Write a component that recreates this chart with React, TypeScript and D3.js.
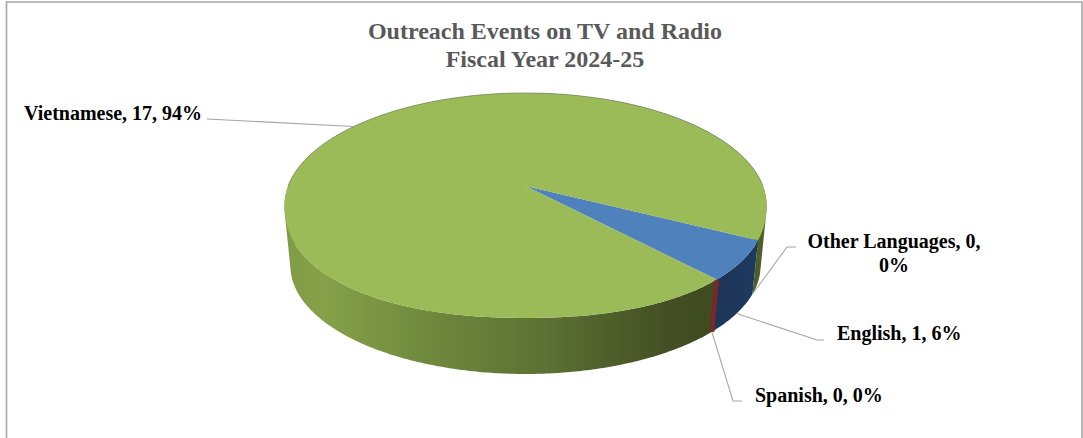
import React from "react";
import * as d3 from "d3";

// Outreach events by language, in drawing order clockwise around the pie
const languages = ["Other Languages", "English", "Spanish", "Vietnamese"];
const eventCounts = [0, 1, 0, 17];
const sharePercents = [0, 6, 0, 94];
const topColors = ["#8064a2", "#4f81bd", "#c0504d", "#9bbb59"];
const wallColors = ["none", "url(#englishWall)", "#742a28", "url(#vietnameseWall)"];
const titleLines = ["Outreach Events on TV and Radio", "Fiscal Year 2024-25"];

const WIDTH = 1083;
const HEIGHT = 438;
const START_ANGLE = (117 * Math.PI) / 180;

// Tilted discs: a unit circle seen through a perspective divide.
// `n` squares off the front half of the rim as a superellipse.
type Disc = { cx: number; cy: number; rx: number; ry: number; k: number; n: number };
const topDisc: Disc = { cx: 525.5, cy: 186, rx: 237.4, ry: 109.1, k: 0.173, n: 2.2 };
const baseDisc: Disc = { cx: 525.5, cy: 242.2, rx: 229.3, ry: 102.8, k: 0.22, n: 2 };

type Pt = [number, number];

const project = (d: Disc, angle: number): Pt => {
  const u = Math.sin(angle);
  const v = -Math.cos(angle);
  const w = 1 - d.k * v;
  const x = d.cx + (d.rx * u) / w;
  const y = d.cy + (d.ry * v) / w;
  const q = 1 - d.k * d.k;
  const a = d.rx / Math.sqrt(q);
  const b = d.ry / q;
  const yc = d.cy + (d.ry * d.k) / q;
  const ex = (x - d.cx) / a;
  const ey = (y - yc) / b;
  if (ey <= 0 || d.n === 2) return [x, y];
  const f = Math.pow(Math.pow(Math.abs(ex), d.n) + Math.pow(ey, d.n), -1 / d.n);
  return [d.cx + ex * f * a, yc + ey * f * b];
};

const sampleAngles = (a0: number, a1: number) => {
  const n = Math.max(1, Math.ceil(Math.abs(a1 - a0) / 0.01));
  return d3.range(n + 1).map((i) => a0 + ((a1 - a0) * i) / n);
};

const line = d3.line<Pt>();
const arcs = d3
  .pie<number>()
  .sort(null)
  .startAngle(START_ANGLE)
  .endAngle(START_ANGLE + 2 * Math.PI)(eventCounts);

const topPath = (a0: number, a1: number) =>
  line([[topDisc.cx, topDisc.cy], ...sampleAngles(a0, a1).map((a) => project(topDisc, a))]) + "Z";

// The wall is a union of thin quads, each wound the same way, so the
// silhouette between the two rims fills in where the rims cross.
const wallPath = (a0: number, a1: number) => {
  const angles = sampleAngles(a0, a1);
  const quads: string[] = [];
  for (let i = 0; i + 1 < angles.length; i++) {
    const quad: Pt[] = [
      project(topDisc, angles[i]),
      project(topDisc, angles[i + 1]),
      project(baseDisc, angles[i + 1]),
      project(baseDisc, angles[i]),
    ];
    const ordered = d3.polygonArea(quad) < 0 ? quad.reverse() : quad;
    quads.push(line(ordered) + "Z");
  }
  return quads.join("");
};

// Hairline along the far half of the top face
const farRim = line(sampleAngles(-Math.PI / 2, Math.PI / 2).map((a) => project(topDisc, a))) ?? "";

type Callout = {
  index: number;
  disc: Disc;
  elbow: Pt[];
  lines: string[];
  x: number;
  y: number;
  anchor: "start" | "middle";
};

// Label text comes from the data; elbows and positions are layout only
const labelText = (i: number) => `${languages[i]}, ${eventCounts[i]}, ${sharePercents[i]}%`;
const callouts: Callout[] = [
  { index: 3, disc: topDisc, elbow: [[207, 119]], lines: [labelText(3)], x: 24, y: 120, anchor: "start" },
  {
    index: 0,
    disc: baseDisc,
    elbow: [[787, 247], [796, 247]],
    lines: [`${languages[0]}, ${eventCounts[0]},`, `${sharePercents[0]}%`],
    x: 894,
    y: 248,
    anchor: "middle",
  },
  { index: 1, disc: baseDisc, elbow: [[817, 340], [824, 340]], lines: [labelText(1)], x: 837, y: 340, anchor: "start" },
  { index: 2, disc: baseDisc, elbow: [[733, 401], [742, 401]], lines: [labelText(2)], x: 755, y: 401.5, anchor: "start" },
];

export default function App() {
  return (
    <svg
      width={WIDTH}
      height={HEIGHT}
      viewBox={`0 0 ${WIDTH} ${HEIGHT}`}
      style={{ position: "fixed", left: 0, top: 0, display: "block", background: "#fff" }}
      fontFamily="'Liberation Serif', serif"
    >
      <defs>
        <linearGradient id="vietnameseWall" gradientUnits="userSpaceOnUse" x1={284} x2={766} y1={0} y2={0}>
          <stop offset="0" stopColor="#7f9b43" />
          <stop offset="0.08" stopColor="#86a149" />
          <stop offset="0.28" stopColor="#718b3e" />
          <stop offset="0.55" stopColor="#5b7033" />
          <stop offset="0.8" stopColor="#434f22" />
          <stop offset="0.88" stopColor="#3f4c20" />
          <stop offset="1" stopColor="#4f6228" />
        </linearGradient>
        <linearGradient id="englishWall" gradientUnits="userSpaceOnUse" x1={710} x2={766} y1={0} y2={0}>
          <stop offset="0" stopColor="#1c3456" />
          <stop offset="1" stopColor="#1f3b62" />
        </linearGradient>
      </defs>

      <path d="M6.5,438V2H1082V438" fill="none" stroke="#a6a6a6" strokeWidth={1.6} />

      <text textAnchor="middle" fontWeight="bold" fontSize={24} fill="#595959">
        {titleLines.map((t, i) => (
          <tspan key={t} x={545} y={38.5 + i * 28.5}>
            {t}
          </tspan>
        ))}
      </text>

      {/* Outer walls of the disc, far slices first, then the top face laid over them */}
      {[3, 1].map((i) => (
        <path key={languages[i]} d={wallPath(arcs[i].startAngle, arcs[i].endAngle)} fill={wallColors[i]} />
      ))}
      {arcs.map((a, i) => {
        if (a.endAngle > a.startAngle || wallColors[i] === "none") return null;
        const [x1, y1] = project(topDisc, a.startAngle);
        const [x2, y2] = project(baseDisc, a.startAngle);
        return (
          <line key={languages[i]} x1={x1} y1={y1} x2={x2} y2={y2} stroke={wallColors[i]} strokeWidth={5} />
        );
      })}
      {arcs.map((a, i) =>
        a.endAngle > a.startAngle ? (
          <path key={languages[i]} d={topPath(a.startAngle, a.endAngle)} fill={topColors[i]} />
        ) : null
      )}
      <path d={farRim} fill="none" stroke="#7c8a68" strokeWidth={0.8} />

      {callouts.map((c) => {
        const a = arcs[c.index];
        const anchorPoint = project(c.disc, (a.startAngle + a.endAngle) / 2);
        return (
          <g key={c.index}>
            <path
              d={line([anchorPoint, ...c.elbow]) ?? ""}
              fill="none"
              stroke="#a6a6a6"
              strokeWidth={1.1}
            />
            <text textAnchor={c.anchor} fontWeight="bold" fontSize={20} fill="#000">
              {c.lines.map((t, j) => (
                <tspan key={t} x={c.x} y={c.y + j * 23.5}>
                  {t}
                </tspan>
              ))}
            </text>
          </g>
        );
      })}
    </svg>
  );
}
